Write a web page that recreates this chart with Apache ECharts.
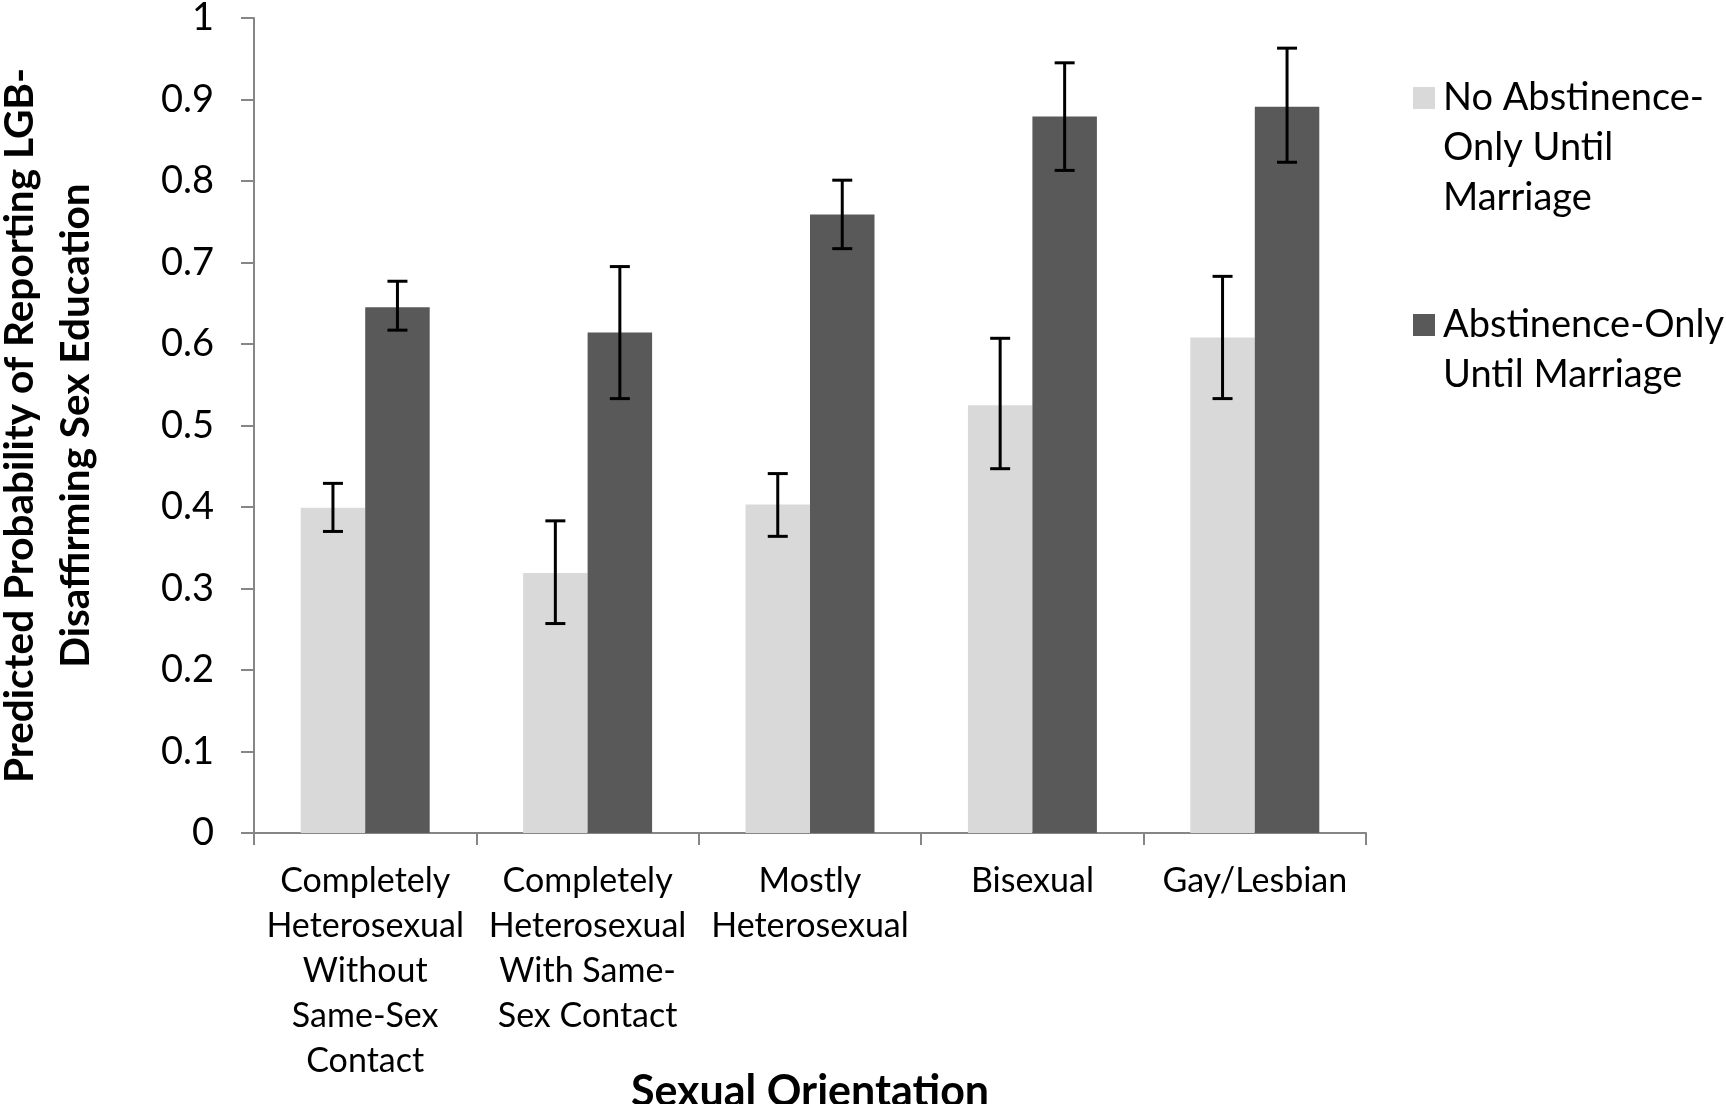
<!DOCTYPE html>
<html>
<head>
<meta charset="utf-8">
<script src="https://cdn.jsdelivr.net/npm/echarts@6/dist/echarts.min.js"></script>
<style>
html,body{margin:0;padding:0;background:#fff;}
#chart{width:1726px;height:1104px;}
</style>
</head>
<body>
<div id="chart"></div>
<script>
const categories = [
  "Completely\nHeterosexual\nWithout\nSame-Sex\nContact",
  "Completely\nHeterosexual\nWith Same-\nSex Contact",
  "Mostly\nHeterosexual",
  "Bisexual",
  "Gay/Lesbian"
];
const seriesNames = ["No Abstinence-\nOnly Until\nMarriage", "Abstinence-Only\nUntil Marriage"];
const noAbstinence = [0.399, 0.319, 0.403, 0.525, 0.608];
const noAbstinenceLow = [0.370, 0.257, 0.364, 0.447, 0.533];
const noAbstinenceHigh = [0.429, 0.383, 0.441, 0.607, 0.683];
const abstinence = [0.645, 0.614, 0.759, 0.879, 0.891];
const abstinenceLow = [0.617, 0.533, 0.717, 0.813, 0.823];
const abstinenceHigh = [0.677, 0.695, 0.801, 0.945, 0.963];
const yTicks = [0, 0.1, 0.2, 0.3, 0.4, 0.5, 0.6, 0.7, 0.8, 0.9, 1];

const FONT = 'Lato';
const BAR_FRAC = 0.29;

function errData(lo, hi) {
  return lo.map((v, i) => [i, v, hi[i]]);
}
function errRender(side) {
  return function (params, api) {
    const i = api.value(0);
    const band = api.size([1, 0])[0];
    const off = side * band * BAR_FRAC / 2;
    const pLo = api.coord([i, api.value(1)]);
    const pHi = api.coord([i, api.value(2)]);
    const x = pLo[0] + off;
    const cap = 10;
    const st = {stroke: '#000', lineWidth: 3};
    return {
      type: 'group',
      children: [
        {type: 'line', shape: {x1: x, y1: pLo[1], x2: x, y2: pHi[1]}, style: st},
        {type: 'line', shape: {x1: x - cap, y1: pLo[1], x2: x + cap, y2: pLo[1]}, style: st},
        {type: 'line', shape: {x1: x - cap, y1: pHi[1], x2: x + cap, y2: pHi[1]}, style: st}
      ]
    };
  };
}
// put the legend marker beside the first line of a multi-line label
function firstLineAligned(name) {
  const n = name.split('\n').length;
  return '\n'.repeat(n - 1) + name;
}

const chart = echarts.init(document.getElementById('chart'));
chart.setOption({
  animation: false,
  backgroundColor: '#fff',
  textStyle: {fontFamily: FONT, color: '#000'},
  grid: {left: 254, right: 360, top: 18, bottom: 271, containLabel: false, outerBoundsMode: 'none'},
  legend: [
    {
      orient: 'vertical', left: 1413, top: -27, padding: 0,
      itemWidth: 22, itemHeight: 22, icon: 'rect', itemGap: 0,
      data: [seriesNames[0]],
      formatter: firstLineAligned,
      textStyle: {fontFamily: FONT, fontSize: 38, lineHeight: 50, color: '#000', padding: [0, 0, 0, 3]}
    },
    {
      orient: 'vertical', left: 1413, top: 250, padding: 0,
      itemWidth: 22, itemHeight: 22, icon: 'rect', itemGap: 0,
      data: [seriesNames[1]],
      formatter: firstLineAligned,
      textStyle: {fontFamily: FONT, fontSize: 38, lineHeight: 50, color: '#000', padding: [0, 0, 0, 3]}
    }
  ],
  xAxis: {
    type: 'category',
    data: categories,
    name: 'Sexual Orientation',
    nameLocation: 'middle',
    nameGap: 238,
    nameMoveOverlap: false,
    nameTextStyle: {fontFamily: FONT, fontSize: 43, fontWeight: 'bold', color: '#000'},
    axisLine: {lineStyle: {color: '#868686', width: 2}},
    axisTick: {show: true, length: 12, lineStyle: {color: '#868686', width: 2}},
    axisLabel: {interval: 0, fontFamily: FONT, fontSize: 34, lineHeight: 45, color: '#000', margin: 26}
  },
  yAxis: {
    type: 'value',
    min: 0, max: 1, interval: 0.1,
    name: 'Predicted Probability of Reporting LGB-\nDisaffirming Sex Education',
    nameLocation: 'middle',
    nameGap: 150,
    nameMoveOverlap: false,
    nameTextStyle: {fontFamily: FONT, fontSize: 40.5, fontWeight: 'bold', lineHeight: 56, color: '#000'},
    splitLine: {show: false},
    axisLine: {show: true, lineStyle: {color: '#868686', width: 2}},
    axisTick: {show: true, length: 13, lineStyle: {color: '#868686', width: 2}},
    axisLabel: {
      fontFamily: FONT, fontSize: 38, color: '#000', margin: 40,
      formatter: function (v) {
        const t = yTicks.find(x => Math.abs(x - v) < 1e-9);
        return t === undefined ? '' : String(t);
      }
    }
  },
  series: [
    {
      name: seriesNames[0], type: 'bar', data: noAbstinence,
      barWidth: (BAR_FRAC * 100) + '%', barGap: '0%',
      itemStyle: {color: '#d9d9d9'}
    },
    {
      name: seriesNames[1], type: 'bar', data: abstinence,
      barWidth: (BAR_FRAC * 100) + '%', barGap: '0%',
      itemStyle: {color: '#595959'}
    },
    {
      type: 'custom', data: errData(noAbstinenceLow, noAbstinenceHigh),
      renderItem: errRender(-1), encode: {x: 0, y: [1, 2]}, z: 5, silent: true
    },
    {
      type: 'custom', data: errData(abstinenceLow, abstinenceHigh),
      renderItem: errRender(1), encode: {x: 0, y: [1, 2]}, z: 5, silent: true
    }
  ]
});
</script>
</body>
</html>
